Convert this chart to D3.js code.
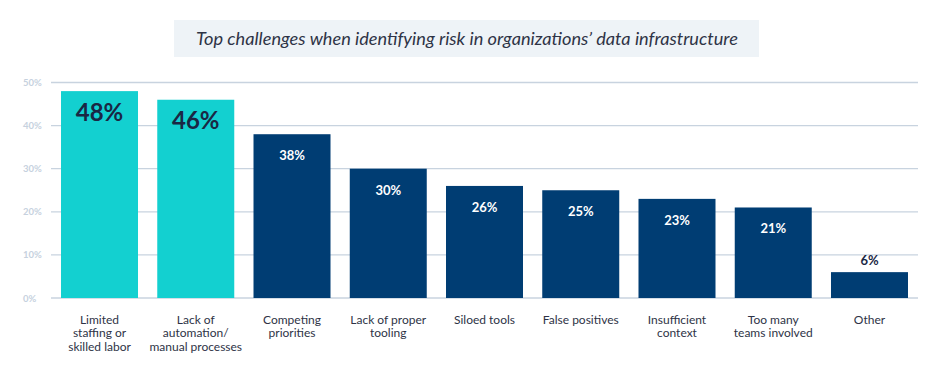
<!DOCTYPE html>
<html>
<head>
<meta charset="utf-8">
<script src="https://cdn.jsdelivr.net/npm/d3@7"></script>
<style>
  body { margin: 0; background: #fff; }
  text { font-family: Lato, "Open Sans", sans-serif; }
</style>
</head>
<body>
<div id="chart"></div>
<script>
var categories = [
    ["Limited", "staffing or", "skilled labor"],
    ["Lack of", "automation/", "manual processes"],
    ["Competing", "priorities"],
    ["Lack of proper", "tooling"],
    ["Siloed tools"],
    ["False positives"],
    ["Insufficient", "context"],
    ["Too many", "teams involved"],
    ["Other"]
];
var values = [48, 46, 38, 30, 26, 25, 23, 21, 6];
var highlight = [true, true, false, false, false, false, false, false, false];
var yTicks = [0, 10, 20, 30, 40, 50];

var width = 945, height = 372;

var svg = d3.select("#chart").append("svg")
    .attr("width", width)
    .attr("height", height);

// title box
svg.append("rect")
    .attr("x", 174).attr("y", 20)
    .attr("width", 585).attr("height", 37)
    .attr("fill", "#eef3f7");
svg.append("text")
    .attr("x", 467).attr("y", 44.5)
    .attr("text-anchor", "middle")
    .attr("font-style", "italic")
    .attr("font-size", 18.2)
    .attr("fill", "#2e3346")
    .text("Top challenges when identifying risk in organizations\u2019 data infrastructure");

var x = d3.scaleBand()
    .domain(d3.range(values.length))
    .range([51, 918])
    .paddingInner(0.2)
    .paddingOuter(0.104);

var y = d3.scaleLinear()
    .domain([0, 50])
    .range([298, 82.5]);

// gridlines
svg.append("g").selectAll("line")
    .data(yTicks)
    .enter().append("line")
    .attr("x1", 51).attr("x2", 918)
    .attr("y1", function (d) { return y(d); })
    .attr("y2", function (d) { return y(d); })
    .attr("stroke", "#c8d3df")
    .attr("stroke-width", 1.3);

svg.append("g").selectAll("text")
    .data(yTicks)
    .enter().append("text")
    .attr("x", 23)
    .attr("y", function (d) { return y(d) + 3.5; })
    .attr("font-size", 9.5)
    .attr("font-weight", "bold")
    .attr("fill", "#c6d1de")
    .text(function (d) { return d + "%"; });

// bars
svg.append("g").selectAll("rect")
    .data(values)
    .enter().append("rect")
    .attr("x", function (d, i) { return x(i); })
    .attr("y", function (d) { return y(d); })
    .attr("width", x.bandwidth())
    .attr("height", function (d) { return y(0) - y(d); })
    .attr("fill", function (d, i) { return highlight[i] ? "#13d0d0" : "#003d73"; });

// value labels
svg.append("g").selectAll("text")
    .data(values)
    .enter().append("text")
    .attr("x", function (d, i) { return x(i) + x.bandwidth() / 2; })
    .attr("y", function (d, i) {
        if (highlight[i]) return y(d) + 29.5;
        if (d < 10) return y(d) - 7;
        return y(d) + 26;
    })
    .attr("text-anchor", "middle")
    .attr("font-weight", "bold")
    .attr("font-size", function (d, i) { return highlight[i] ? 24 : 13; })
    .attr("fill", function (d, i) {
        if (highlight[i] || d < 10) return "#1a2744";
        return "#ffffff";
    })
    .text(function (d) { return d + "%"; });

// category labels
var cat = svg.append("g").selectAll("text")
    .data(categories)
    .enter().append("text")
    .attr("text-anchor", "middle")
    .attr("font-size", 12)
    .attr("fill", "#2e3346")
    .attr("transform", function (d, i) {
        return "translate(" + (x(i) + x.bandwidth() / 2) + ",324)";
    });
cat.selectAll("tspan")
    .data(function (d) { return d; })
    .enter().append("tspan")
    .attr("x", 0)
    .attr("y", function (d, j) { return j * 13.3; })
    .text(function (d) { return d; });
</script>
</body>
</html>
